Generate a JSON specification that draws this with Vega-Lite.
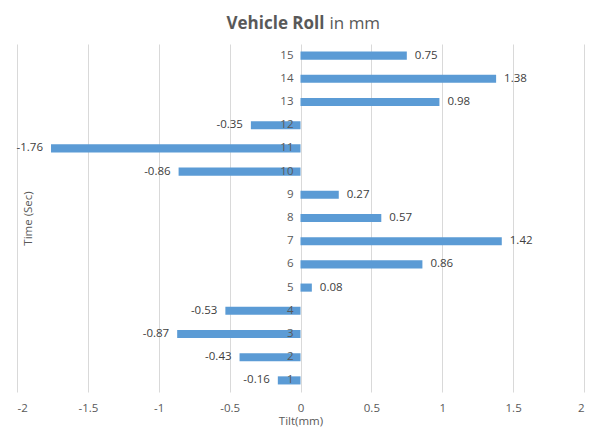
{
  "$schema": "https://vega.github.io/schema/vega-lite/v6.json",
  "autosize": {"type": "none"},
  "width": 567,
  "height": 348,
  "padding": {"left": 17, "top": 44, "right": 7, "bottom": 36},
  "background": "white",
  "config": {
    "view": {"stroke": null},
    "font": "Open Sans",
    "axis": {"labelFont": "Open Sans", "titleFont": "Open Sans"}
  },
  "resolve": {"axis": {"x": "independent", "y": "independent"}},
  "data": {
    "values": [
      {"t": 1, "v": -0.16},
      {"t": 2, "v": -0.43},
      {"t": 3, "v": -0.87},
      {"t": 4, "v": -0.53},
      {"t": 5, "v": 0.08},
      {"t": 6, "v": 0.86},
      {"t": 7, "v": 1.42},
      {"t": 8, "v": 0.57},
      {"t": 9, "v": 0.27},
      {"t": 10, "v": -0.86},
      {"t": 11, "v": -1.76},
      {"t": 12, "v": -0.35},
      {"t": 13, "v": 0.98},
      {"t": 14, "v": 1.38},
      {"t": 15, "v": 0.75}
    ]
  },
  "layer": [
    {
      "mark": {"type": "bar", "color": "#5B9BD5"},
      "encoding": {
        "y": {
          "field": "t",
          "type": "ordinal",
          "sort": "descending",
          "scale": {"paddingInner": 0.65, "paddingOuter": 0.325},
          "axis": {
            "orient": "left",
            "labels": false,
            "ticks": false,
            "domain": false,
            "grid": false,
            "title": "Time (Sec)",
            "titleX": 11,
            "titleY": 174,
            "titleAngle": -90,
            "titleAlign": "center",
            "titleBaseline": "middle",
            "titleFontSize": 11.5,
            "titleFontWeight": "normal",
            "titleColor": "#595959"
          }
        },
        "x": {
          "field": "v",
          "type": "quantitative",
          "scale": {"domain": [-2, 2], "nice": false},
          "axis": {
            "orient": "bottom",
            "values": [-2, -1.5, -1, -0.5, 0, 0.5, 1, 1.5, 2],
            "labelExpr": "'' + datum.value",
            "grid": true,
            "gridColor": "#D9D9D9",
            "gridWidth": 1,
            "domain": false,
            "ticks": false,
            "labelPadding": 10,
            "labelFontSize": 11.5,
            "labelColor": "#595959",
            "title": "Tilt(mm)",
            "titlePadding": 2,
            "titleFontSize": 11.5,
            "titleFontWeight": "normal",
            "titleColor": "#595959"
          }
        },
        "x2": {"datum": 0}
      }
    },
    {
      "mark": {"type": "text", "align": "right", "baseline": "middle", "dx": -7, "fontSize": 11.5, "color": "#595959"},
      "encoding": {
        "y": {
          "field": "t",
          "type": "ordinal",
          "sort": "descending",
          "axis": {
            "orient": "right",
            "labels": false,
            "ticks": false,
            "domain": false,
            "grid": false,
            "title": "in mm",
            "titleX": -255,
            "titleY": -16,
            "titleAngle": 0,
            "titleAlign": "left",
            "titleBaseline": "alphabetic",
            "titleFontSize": 17,
            "titleFontWeight": "normal",
            "titleColor": "#595959"
          }
        },
        "x": {
          "datum": 0,
          "axis": {
            "orient": "top",
            "labels": false,
            "ticks": false,
            "domain": false,
            "grid": false,
            "title": "Vehicle Roll",
            "titleX": 209,
            "titleY": -16,
            "titleAlign": "left",
            "titleBaseline": "alphabetic",
            "titleFontSize": 17,
            "titleFontWeight": "bold",
            "titleColor": "#595959"
          }
        },
        "text": {"field": "t", "type": "nominal"}
      }
    },
    {
      "transform": [{"filter": "datum.v >= 0"}],
      "mark": {"type": "text", "align": "left", "baseline": "middle", "dx": 8, "fontSize": 11.5, "color": "#404040"},
      "encoding": {
        "y": {"field": "t", "type": "ordinal", "sort": "descending", "axis": null},
        "x": {"field": "v", "type": "quantitative", "axis": null},
        "text": {"field": "v", "type": "nominal"}
      }
    },
    {
      "transform": [{"filter": "datum.v < 0"}],
      "mark": {"type": "text", "align": "right", "baseline": "middle", "dx": -8, "fontSize": 11.5, "color": "#404040"},
      "encoding": {
        "y": {"field": "t", "type": "ordinal", "sort": "descending", "axis": null},
        "x": {"field": "v", "type": "quantitative", "axis": null},
        "text": {"field": "v", "type": "nominal"}
      }
    }
  ]
}
